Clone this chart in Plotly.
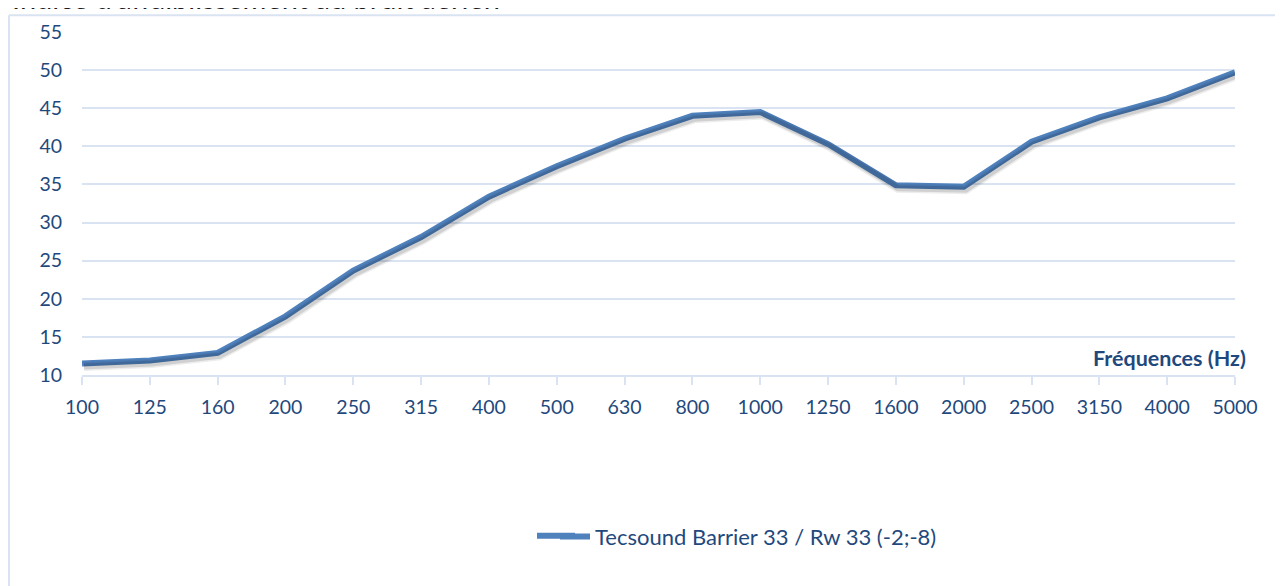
import plotly.graph_objects as go

frequencies = ["100", "125", "160", "200", "250", "315", "400", "500", "630", "800",
               "1000", "1250", "1600", "2000", "2500", "3150", "4000", "5000"]
reduction_db = [11.5, 11.9, 12.9, 17.7, 23.7, 28.1, 33.4, 37.4, 41.0, 44.0,
                44.5, 40.3, 34.9, 34.7, 40.6, 43.8, 46.3, 49.7]
series_name = "Tecsound Barrier 33 / Rw 33 (-2;-8)"
title_text = "Indice d'affaiblissement au bruit aérien"
x_title = "Fréquences (Hz)"
y_ticks = [10, 15, 20, 25, 30, 35, 40, 45, 50, 55]

OFF = 8  # page body margin
PAGE_W, PAGE_H = 1283, 586
W, H = PAGE_W - OFF, PAGE_H - OFF
# plot area in page pixels
P_L, P_R, P_T, P_B = 82, 1235, 27, 375
L, T = P_L - OFF, P_T - OFF
R, B = W - (P_R - OFF), H - (P_B - OFF)
pw, ph = P_R - P_L, P_B - P_T

def px_x(p):
    return (p - P_L) / pw

def px_y(p):
    return (P_B - p) / ph

grid = "#D9E3F1"
txt = "#1F497D"
line_col = "#4F81BD"
font = "Lato"

n = len(frequencies) - 1
cat_px = pw / n
val_px = ph / 45.0

fig = go.Figure()
# soft shadow (same data drawn on shifted overlay axes)
fig.add_trace(go.Scatter(x=frequencies, y=reduction_db, mode="lines",
                         line=dict(color="rgba(0,0,0,0.07)", width=9),
                         xaxis="x2", yaxis="y2", showlegend=False, hoverinfo="skip"))
fig.add_trace(go.Scatter(x=frequencies, y=reduction_db, mode="lines",
                         line=dict(color="rgba(0,0,0,0.12)", width=6),
                         xaxis="x2", yaxis="y2", showlegend=False, hoverinfo="skip"))
fig.add_trace(go.Scatter(x=frequencies, y=reduction_db, mode="lines", name=series_name,
                         line=dict(color=line_col, width=6)))

fig.update_layout(
    width=W, height=H, autosize=False,
    margin=dict(l=L, r=R, t=T, b=B),
    paper_bgcolor="white", plot_bgcolor="white",
    font=dict(family=font, size=19.5, color=txt),
    xaxis=dict(type="category", range=[0, n], showgrid=False, zeroline=False,
               showline=True, linecolor=grid, linewidth=1.5,
               ticks="outside", ticklen=8, tickcolor=grid, tickwidth=1.5,
               tickfont=dict(family=font, size=19.5, color=txt), ticklabelstandoff=6),
    yaxis=dict(range=[10, 55], tickvals=y_ticks, showgrid=True, gridcolor=grid, gridwidth=1.5,
               zeroline=False, showline=False, ticks="",
               tickfont=dict(family=font, size=19.5, color=txt), ticklabelstandoff=19),
    xaxis2=dict(type="category", overlaying="x", range=[-2 / cat_px, n - 2 / cat_px],
                visible=False),
    yaxis2=dict(overlaying="y", range=[10 + 3 / val_px, 55 + 3 / val_px], visible=False),
    showlegend=True,
    legend=dict(x=px_x(555), y=px_y(539), xanchor="left", yanchor="middle",
                font=dict(family=font, size=22, color=txt), bgcolor="rgba(0,0,0,0)"),
    annotations=[
        dict(text=title_text, xref="paper", yref="paper", x=px_x(10), y=px_y(12),
             xanchor="left", yanchor="bottom", showarrow=False,
             font=dict(family=font, size=29, color="#1a1a1a")),
        dict(text="<b>" + x_title + "</b>", xref="paper", yref="paper", x=px_x(1248),
             y=px_y(358), xanchor="right", yanchor="middle", showarrow=False,
             font=dict(family=font, size=21.5, color=txt)),
    ],
    shapes=[
        dict(type="line", xref="paper", yref="paper", x0=px_x(9), x1=px_x(9),
             y0=px_y(10), y1=px_y(PAGE_H + 5), line=dict(color=grid, width=2)),
        dict(type="line", xref="paper", yref="paper", x0=px_x(9), x1=px_x(PAGE_W + 5),
             y0=px_y(10), y1=px_y(10), line=dict(color=grid, width=2)),
        # lengthen the legend key to Excel's longer sample line
        dict(type="line", xref="paper", yref="paper", x0=px_x(537), x1=px_x(575),
             y0=px_y(538), y1=px_y(538), line=dict(color=line_col, width=6),
             layer="above"),
    ],
)

fig.write_html("out.html")
